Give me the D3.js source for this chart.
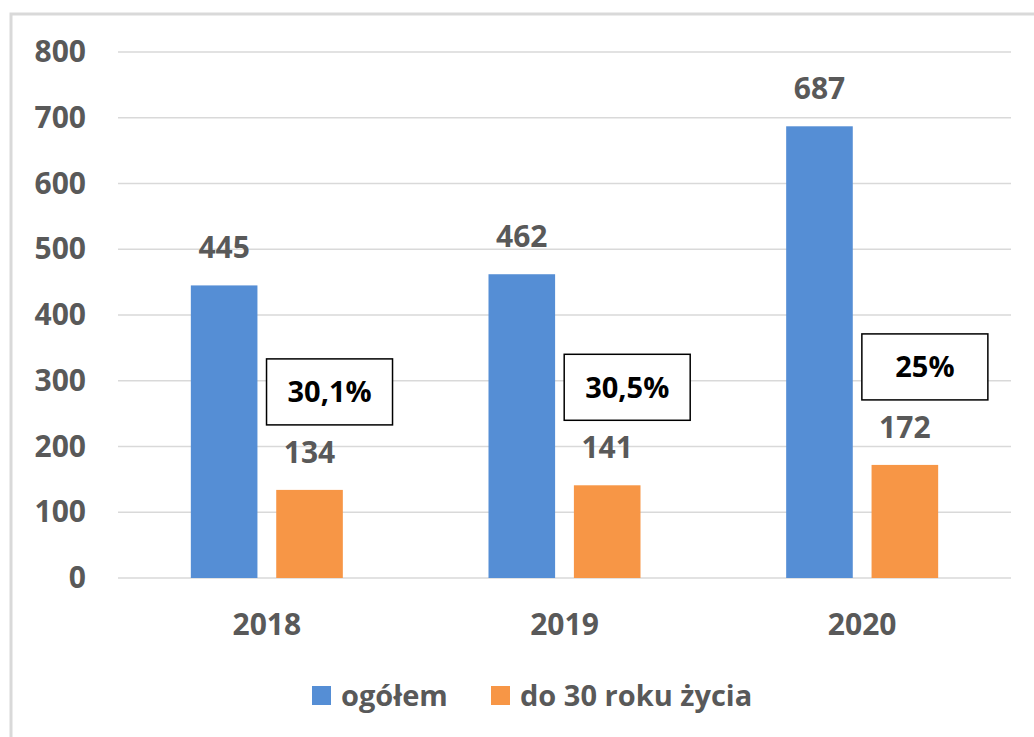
<!DOCTYPE html>
<html>
<head>
<meta charset="utf-8">
<script src="https://cdn.jsdelivr.net/npm/d3@7"></script>
<style>
  body { margin: 0; background: #fff; }
  text { font-family: 'Open Sans', sans-serif; font-weight: bold; }
</style>
</head>
<body>
<svg width="1034" height="737"></svg>
<script>
const years = ['2018', '2019', '2020']
const seriesNames = ['ogółem', 'do 30 roku życia']
const totalValues = [445, 462, 687]
const youngValues = [134, 141, 172]
const shareLabels = ['30,1%', '30,5%', '25%']
const yTicks = [0, 100, 200, 300, 400, 500, 600, 700, 800]
const colors = ['#558ed5', '#f79646']

const svg = d3.select('svg')
const margin = {top: 52, right: 23, bottom: 159, left: 118}
const width = 1034 - margin.left - margin.right
const height = 737 - margin.top - margin.bottom

// outer frame (right/bottom edges run off the picture)
svg.append('rect')
  .attr('x', 11).attr('y', 14)
  .attr('width', 1100).attr('height', 800)
  .attr('fill', 'none')
  .attr('stroke', '#d9d9d9')
  .attr('stroke-width', 3)

const g = svg.append('g').attr('transform', 'translate(' + margin.left + ',' + margin.top + ')')

const x0 = d3.scaleBand().domain(years).range([0, width])
const x1 = d3.scaleBand().domain(seriesNames).range([x0.bandwidth() / 2 - 76, x0.bandwidth() / 2 + 76]).paddingInner(0.22)
const y = d3.scaleLinear().domain([0, 800]).range([height, 0])

// gridlines
g.append('g')
  .selectAll('line')
  .data(yTicks)
  .enter().append('line')
    .attr('x1', 0).attr('x2', width)
    .attr('y1', d => y(d)).attr('y2', d => y(d))
    .attr('stroke', '#d9d9d9')
    .attr('stroke-width', 1.5)

// y axis labels
const yAxis = g.append('g')
  .call(d3.axisLeft(y).tickValues(yTicks).tickSize(0).tickPadding(32))
yAxis.select('.domain').remove()
yAxis.selectAll('text')
  .attr('font-size', 30)
  .attr('fill', '#595959')
  .attr('font-family', "'Open Sans', sans-serif")

// x axis labels
const xAxis = g.append('g')
  .attr('transform', 'translate(0,' + height + ')')
  .call(d3.axisBottom(x0).tickSize(0).tickPadding(36))
xAxis.select('.domain').remove()
xAxis.selectAll('text')
  .attr('font-size', 30)
  .attr('fill', '#595959')
  .attr('font-family', "'Open Sans', sans-serif")

const rows = years.map((yr, i) => ({
  year: yr,
  values: [
    {key: seriesNames[0], value: totalValues[i]},
    {key: seriesNames[1], value: youngValues[i]}
  ],
  share: shareLabels[i]
}))

const groups = g.append('g')
  .selectAll('g')
  .data(rows)
  .enter().append('g')
    .attr('transform', d => 'translate(' + x0(d.year) + ',0)')

groups.selectAll('rect')
  .data(d => d.values)
  .enter().append('rect')
    .attr('x', d => x1(d.key))
    .attr('y', d => y(d.value))
    .attr('width', x1.bandwidth())
    .attr('height', d => height - y(d.value))
    .attr('fill', (d, i) => colors[i])

groups.selectAll('.val')
  .data(d => d.values)
  .enter().append('text')
    .attr('class', 'val')
    .attr('x', d => x1(d.key) + x1.bandwidth() / 2)
    .attr('y', d => y(d.value) - 27)
    .attr('text-anchor', 'middle')
    .attr('font-size', 30)
    .attr('fill', '#595959')
    .text(d => d.value)

// percentage callouts above the orange bars
const box = groups.append('g')
  .attr('transform', d => 'translate(' + (x1(seriesNames[1]) + x1.bandwidth() / 2 + 20) + ',' + (y(d.values[1].value) - 98) + ')')

box.append('rect')
  .attr('x', -63).attr('y', -33)
  .attr('width', 126).attr('height', 66)
  .attr('fill', '#fff')
  .attr('stroke', '#000')
  .attr('stroke-width', 1.5)

box.append('text')
  .attr('text-anchor', 'middle')
  .attr('dy', '0.36em')
  .attr('font-size', 29)
  .attr('fill', '#000')
  .text(d => d.share)

// legend
const legend = svg.append('g').attr('transform', 'translate(312,696)')
const legendItems = legend.selectAll('g')
  .data(seriesNames)
  .enter().append('g')
    .attr('transform', (d, i) => 'translate(' + (i * 179) + ',0)')

legendItems.append('rect')
  .attr('x', 0).attr('y', -10)
  .attr('width', 19).attr('height', 19)
  .attr('fill', (d, i) => colors[i])

legendItems.append('text')
  .attr('x', 29)
  .attr('dy', '0.35em')
  .attr('font-size', 29)
  .attr('fill', '#595959')
  .text(d => d)
</script>
</body>
</html>
